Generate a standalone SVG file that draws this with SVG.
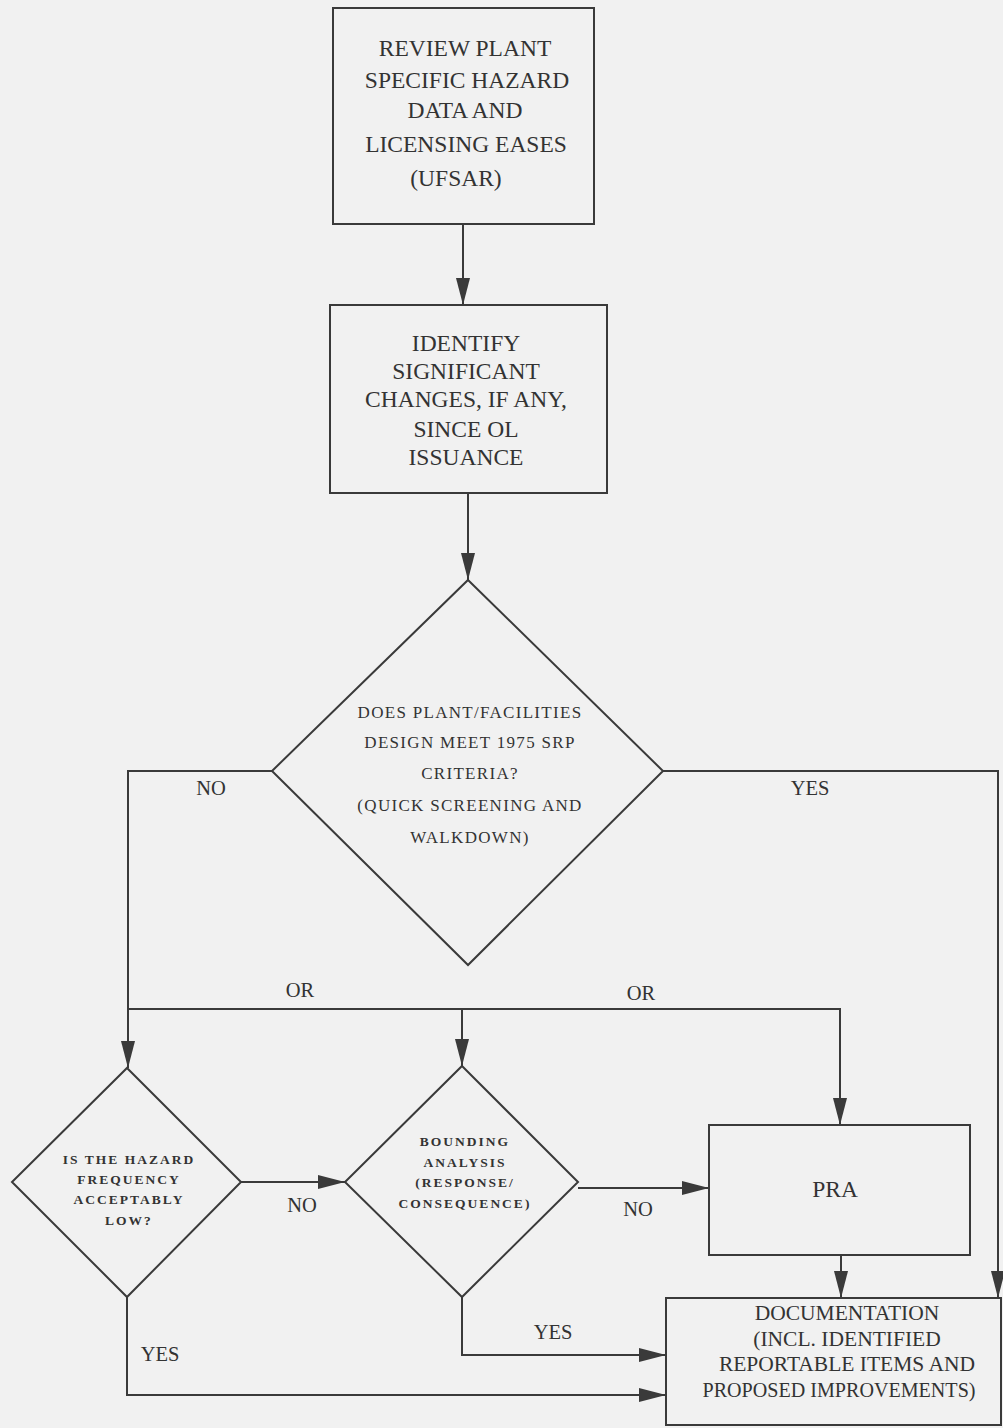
<svg xmlns="http://www.w3.org/2000/svg" width="1003" height="1428" viewBox="0 0 1003 1428">
<style>
.shape{fill:none;stroke:#3a3a3a;stroke-width:2}
.conn{fill:none;stroke:#3a3a3a;stroke-width:2}
text{font-family:'Liberation Serif','DejaVu Serif',serif;fill:#333;text-anchor:middle}
.box{font-size:23.5px}
.doc{font-size:21.5px}
.d1{font-size:17px;letter-spacing:1.3px}
.dsm{font-size:13.5px;font-weight:bold;letter-spacing:2px}
.lbl{font-size:20.5px}
</style>
<defs>
<marker id="ah" markerUnits="userSpaceOnUse" markerWidth="28" markerHeight="16" refX="27" refY="8" orient="auto">
<path d="M0,1 L27,8 L0,15 Z" fill="#3a3a3a"/>
</marker>
</defs>
<rect width="1003" height="1428" fill="#f1f1f1"/>
<g id="connectors">
<line class="conn" x1="463" y1="224" x2="463" y2="305" marker-end="url(#ah)"/>
<line class="conn" x1="468" y1="493" x2="468" y2="580" marker-end="url(#ah)"/>
<polyline class="conn" points="272,771 128,771 128,1068" marker-end="url(#ah)"/>
<polyline class="conn" points="663,771 998,771 998,1298" marker-end="url(#ah)"/>
<polyline class="conn" points="128,1009 840,1009 840,1125" marker-end="url(#ah)"/>
<line class="conn" x1="462" y1="1009" x2="462" y2="1066" marker-end="url(#ah)"/>
<line class="conn" x1="241" y1="1182" x2="345" y2="1182" marker-end="url(#ah)"/>
<line class="conn" x1="578" y1="1188" x2="709" y2="1188" marker-end="url(#ah)"/>
<line class="conn" x1="841" y1="1255" x2="841" y2="1298" marker-end="url(#ah)"/>
<polyline class="conn" points="462,1297 462,1355 666,1355" marker-end="url(#ah)"/>
<polyline class="conn" points="127,1297 127,1395 666,1395" marker-end="url(#ah)"/>
<text class="lbl" x="211" y="795">NO</text>
<text class="lbl" x="810" y="795">YES</text>
<text class="lbl" x="300" y="997">OR</text>
<text class="lbl" x="641" y="1000">OR</text>
<text class="lbl" x="302" y="1212">NO</text>
<text class="lbl" x="638" y="1216">NO</text>
<text class="lbl" x="553" y="1339">YES</text>
<text class="lbl" x="160" y="1361">YES</text>
</g>
<g id="review">
<rect class="shape" x="333" y="8" width="261" height="216"/>
<text class="box" x="465" y="56">REVIEW PLANT</text>
<text class="box" x="467" y="88">SPECIFIC HAZARD</text>
<text class="box" x="465" y="118">DATA AND</text>
<text class="box" x="466" y="152">LICENSING EASES</text>
<text class="box" x="456" y="186">(UFSAR)</text>
</g>
<g id="identify">
<rect class="shape" x="330" y="305" width="277" height="188"/>
<text class="box" x="466" y="351">IDENTIFY</text>
<text class="box" x="466" y="379">SIGNIFICANT</text>
<text class="box" x="466" y="407">CHANGES, IF ANY,</text>
<text class="box" x="466" y="437">SINCE OL</text>
<text class="box" x="466" y="465">ISSUANCE</text>
</g>
<g id="meet-srp">
<polygon class="shape" points="468,580 663,771 468,965 272,771"/>
<text class="d1" x="470" y="718">DOES PLANT/FACILITIES</text>
<text class="d1" x="470" y="748">DESIGN MEET 1975 SRP</text>
<text class="d1" x="470" y="779">CRITERIA?</text>
<text class="d1" x="470" y="811">(QUICK SCREENING AND</text>
<text class="d1" x="470" y="843">WALKDOWN)</text>
</g>
<g id="hazard-frequency">
<polygon class="shape" points="127,1068 241,1182 127,1297 12,1182"/>
<text class="dsm" x="129" y="1164">IS THE HAZARD</text>
<text class="dsm" x="129" y="1184">FREQUENCY</text>
<text class="dsm" x="129" y="1204">ACCEPTABLY</text>
<text class="dsm" x="129" y="1225">LOW?</text>
</g>
<g id="bounding">
<polygon class="shape" points="462,1066 578,1182 462,1297 345,1182"/>
<text class="dsm" x="465" y="1146">BOUNDING</text>
<text class="dsm" x="465" y="1167">ANALYSIS</text>
<text class="dsm" x="465" y="1187">(RESPONSE/</text>
<text class="dsm" x="465" y="1208">CONSEQUENCE)</text>
</g>
<g id="pra">
<rect class="shape" x="709" y="1125" width="261" height="130"/>
<text class="box" x="835" y="1197">PRA</text>
</g>
<g id="documentation">
<rect class="shape" x="666" y="1298" width="335" height="127"/>
<text class="doc" x="847" y="1320">DOCUMENTATION</text>
<text class="doc" x="847" y="1346">(INCL. IDENTIFIED</text>
<text class="doc" x="847" y="1371">REPORTABLE ITEMS AND</text>
<text class="doc" x="839" y="1397" textLength="273" lengthAdjust="spacingAndGlyphs">PROPOSED IMPROVEMENTS)</text>
</g>
</svg>
